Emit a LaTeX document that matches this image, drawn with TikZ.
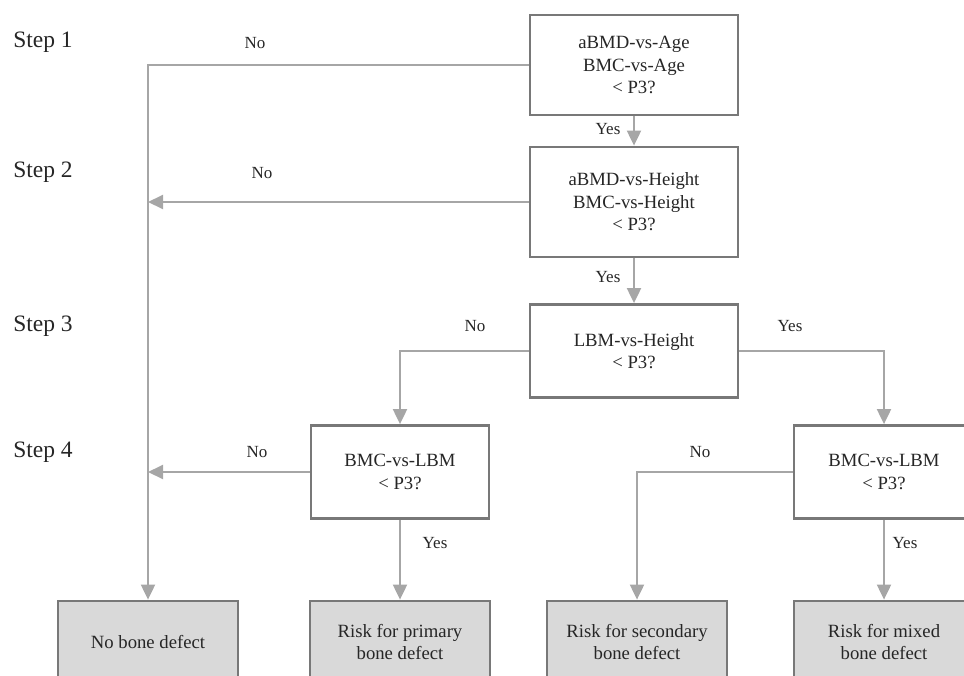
\documentclass[tikz,border=0pt]{standalone}
\usepackage{fontspec}
\setmainfont{Liberation Serif}
\usepackage{xcolor}
\definecolor{boxgray}{RGB}{120,120,120}
\definecolor{linegray}{RGB}{166,166,166}
\definecolor{fillgray}{RGB}{217,217,217}
\definecolor{txtgray}{RGB}{38,38,38}
\usepackage{tikz}
\usetikzlibrary{arrows.meta, positioning}

\tikzset{
  question/.style={draw=boxgray, line width=2.8pt, fill=white, align=center,
    text=txtgray, font=\fontsize{18.7}{22.5}\selectfont, inner sep=0pt},
  outcome/.style={question, fill=fillgray, minimum width=180pt, minimum height=82pt},
  flow/.style={draw=linegray, line width=2pt},
  flowarrow/.style={flow, -{Triangle[length=15pt, width=14pt]}},
  lbl/.style={text=txtgray, font=\fontsize{17}{20}\selectfont},
  steplbl/.style={text=txtgray, font=\fontsize{23.5}{27}\selectfont}
}

\begin{document}
\begin{tikzpicture}[x=1pt, y=-1pt]
  \clip (0,0) rectangle (964,675);

  % Step labels
  \node[steplbl] (s1) at (43,42)  {Step 1};
  \node[steplbl] (s2) at (43,172) {Step 2};
  \node[steplbl] (s3) at (43,326) {Step 3};
  \node[steplbl] (s4) at (43,452) {Step 4};

  % --- Questions ---
  \node[question, minimum width=208pt, minimum height=100pt] (q1) at (634,65)
    {aBMD-vs-Age\\BMC-vs-Age\\< P3?};
  \node[question, minimum width=208pt, minimum height=110pt] (q2) at (634,202)
    {aBMD-vs-Height\\BMC-vs-Height\\< P3?};
  \node[question, minimum width=208pt, minimum height=93pt] (q3) at (634,351)
    {LBM-vs-Height\\< P3?};
  \node[question, minimum width=178pt, minimum height=93pt] (q4l) at (400,472)
    {BMC-vs-LBM\\< P3?};
  \node[question, minimum width=180pt, minimum height=93pt] (q4r) at (884,472)
    {BMC-vs-LBM\\< P3?};

  % --- Outcomes ---
  \node[outcome] (none)      at (148,642) {No bone defect};
  \node[outcome] (primary)   at (400,642) {Risk for primary\\bone defect};
  \node[outcome] (secondary) at (637,642) {Risk for secondary\\bone defect};
  \node[outcome] (mixed)     at (884,642) {Risk for mixed\\bone defect};

  % --- Connectors ---
  \draw[flowarrow] (q1.west) -| (none.north);
  \draw[flowarrow] (q1.south) -- (q2.north);
  \draw[flowarrow] (q2.west) -- (q2.west -| none.north);
  \draw[flowarrow] (q2.south) -- (q3.north);
  \draw[flowarrow] (q3.west) -| (q4l.north);
  \draw[flowarrow] (q3.east) -| (q4r.north);
  \draw[flowarrow] (q4l.west) -- (q4l.west -| none.north);
  \draw[flowarrow] (q4l.south) -- (primary.north);
  \draw[flowarrow] (q4r.west) -| (secondary.north);
  \draw[flowarrow] (q4r.south) -- (mixed.north);

  % Yes / No labels
  \node[lbl] (n1) at (255,43)  {No};
  \node[lbl] (y1) at (608,129) {Yes};
  \node[lbl] (n2) at (262,173) {No};
  \node[lbl] (y2) at (608,277) {Yes};
  \node[lbl] (n3) at (475,326) {No};
  \node[lbl] (y3) at (790,326) {Yes};
  \node[lbl] (n4) at (257,452) {No};
  \node[lbl] (n5) at (700,452) {No};
  \node[lbl] (y4) at (435,543) {Yes};
  \node[lbl] (y5) at (905,543) {Yes};
\end{tikzpicture}
\end{document}
